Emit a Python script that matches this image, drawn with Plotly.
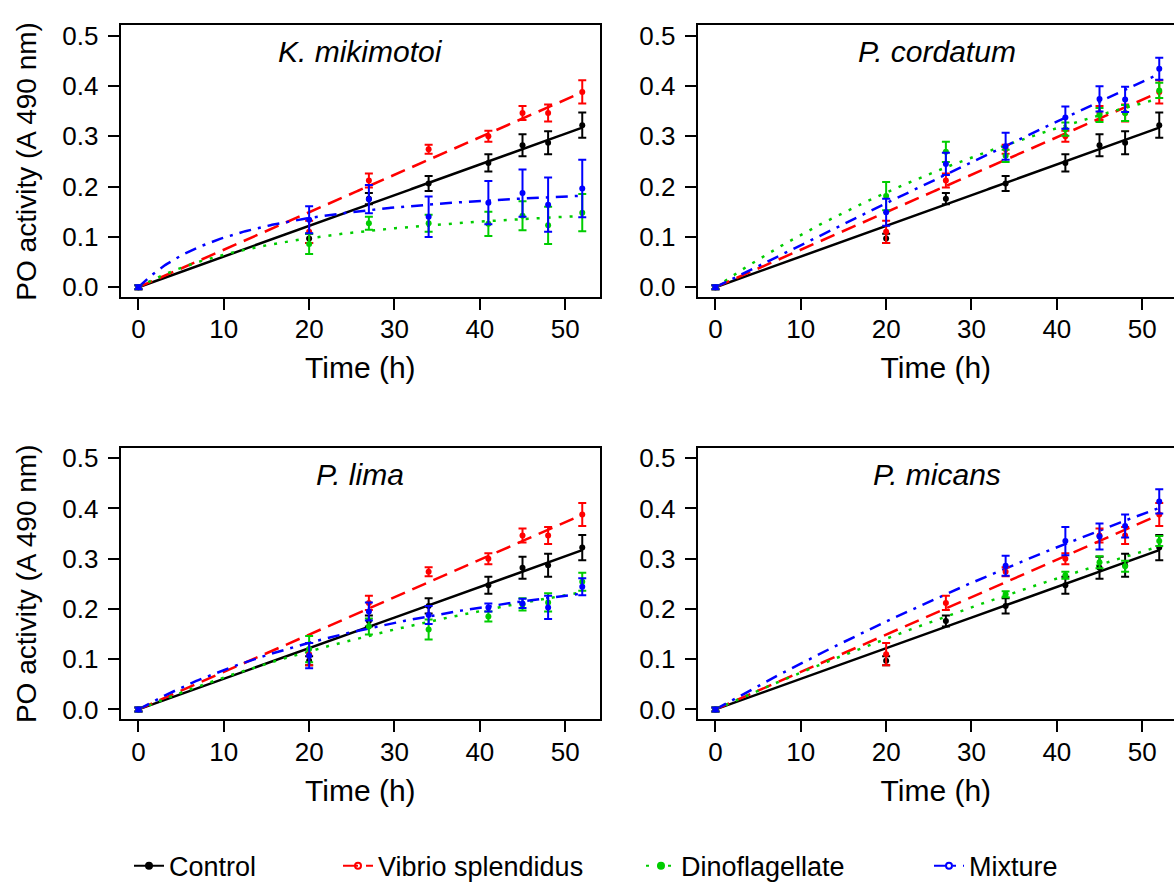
import numpy as np
import plotly.graph_objects as go

# ---------------- data ----------------
times = [0, 20, 27, 34, 41, 45, 48, 52]

control = [0, 0.097, 0.176, 0.206, 0.247, 0.282, 0.287, 0.322]
control_err = [0.004, 0.009, 0.011, 0.015, 0.017, 0.022, 0.023, 0.025]

vibrio = [0, 0.110, 0.212, 0.274, 0.300, 0.346, 0.346, 0.388]
vibrio_err = [0.004, 0.022, 0.014, 0.009, 0.011, 0.014, 0.017, 0.023]

panel_names = ["K. mikimotoi", "P. cordatum", "P. lima", "P. micans"]

dino_kmik = [0, 0.086, 0.127, 0.127, 0.126, 0.142, 0.123, 0.148]
dino_kmik_err = [0.004, 0.020, 0.013, 0.017, 0.024, 0.029, 0.037, 0.037]
mix_kmik = [0, 0.134, 0.175, 0.140, 0.168, 0.187, 0.164, 0.196]
mix_kmik_err = [0.004, 0.027, 0.028, 0.040, 0.043, 0.047, 0.054, 0.057]

dino_pcor = [0, 0.181, 0.269, 0.261, 0.314, 0.342, 0.346, 0.391]
dino_pcor_err = [0.004, 0.028, 0.020, 0.012, 0.013, 0.014, 0.016, 0.015]
mix_pcor = [0, 0.149, 0.245, 0.280, 0.337, 0.374, 0.373, 0.434]
mix_pcor_err = [0.004, 0.027, 0.022, 0.027, 0.022, 0.025, 0.025, 0.022]

dino_plim = [0, 0.120, 0.165, 0.159, 0.185, 0.209, 0.213, 0.254]
dino_plim_err = [0.004, 0.026, 0.016, 0.020, 0.010, 0.012, 0.018, 0.018]
mix_plim = [0, 0.107, 0.195, 0.188, 0.203, 0.211, 0.203, 0.244]
mix_plim_err = [0.004, 0.025, 0.018, 0.018, 0.008, 0.009, 0.023, 0.017]

dino_pmic = [0, None, None, 0.229, 0.267, 0.293, 0.285, 0.335]
dino_pmic_err = [0.004, None, None, 0.006, 0.007, 0.012, 0.011, 0.010]
mix_pmic = [0, None, None, 0.286, 0.335, 0.344, 0.365, 0.414]
mix_pmic_err = [0.004, None, None, 0.020, 0.028, 0.026, 0.023, 0.024]

x_ticks = [0, 10, 20, 30, 40, 50]
y_ticks = [0.0, 0.1, 0.2, 0.3, 0.4, 0.5]
y_tick_labels = ["0.0", "0.1", "0.2", "0.3", "0.4", "0.5"]
series_names = ["Control", "Vibrio splendidus", "Dinoflagellate", "Mixture"]

# ---------------- styles ----------------
FONT = "Liberation Sans, Arial, Helvetica, sans-serif"
colors = ["#000000", "#FF0000", "#00CD00", "#0000FF"]
dashes = ["solid", "15px,8px", "3px,8px", "12px,7px,3px,7px"]
legend_symbols = ["circle", "circle-open", "circle", "circle-open"]


def mm_fit(t, y):
    """Least-squares fit of y = V*t/(K+t) (saturating curve through the origin)."""
    pairs = [(a, b) for a, b in zip(t, y) if b is not None]
    tt = np.array([p[0] for p in pairs], float)
    yy = np.array([p[1] for p in pairs], float)
    best = None
    for K in np.logspace(-1, 6, 4000):
        f = tt / (K + tt)
        V = float(f @ yy) / float(f @ f)
        sse = float(((yy - V * f) ** 2).sum())
        if best is None or sse < best[0]:
            best = (sse, V, K)
    return best[1], best[2]


panels = [
    (dino_kmik, dino_kmik_err, mix_kmik, mix_kmik_err),
    (dino_pcor, dino_pcor_err, mix_pcor, mix_pcor_err),
    (dino_plim, dino_plim_err, mix_plim, mix_plim_err),
    (dino_pmic, dino_pmic_err, mix_pmic, mix_pmic_err),
]

W, H = 1174, 891
# plot-area pixel boxes: (left, right, top, bottom)
boxes = [(120.7, 600.0, 20.8, 297.3), (697.7, 1174.0, 20.8, 297.3),
         (120.7, 600.0, 450.7, 726.7), (697.7, 1174.0, 450.7, 726.7)]
xmin, px_per_h = -2.08, (600.0 - 120.7) / 56.16

fig = go.Figure()
t_fine = np.linspace(0, 52, 300)

for i, (dino, dino_err, mix, mix_err) in enumerate(panels):
    ax = "" if i == 0 else str(i + 1)
    xref, yref = "x" + ax, "y" + ax
    series = [(control, control_err), (vibrio, vibrio_err), (dino, dino_err), (mix, mix_err)]
    for k, (vals, errs) in enumerate(series):
        V, K = mm_fit(times, vals)
        fig.add_trace(go.Scatter(
            x=t_fine, y=V * t_fine / (K + t_fine), mode="lines",
            line=dict(color=colors[k], width=2.5, dash=dashes[k]),
            xaxis=xref, yaxis=yref, showlegend=False, hoverinfo="skip"))
    for k, (vals, errs) in enumerate(series):
        fig.add_trace(go.Scatter(
            x=times, y=vals, mode="markers",
            marker=dict(color=colors[k], size=6),
            error_y=dict(type="data", array=errs, visible=True,
                         color=colors[k], thickness=2, width=4),
            xaxis=xref, yaxis=yref, showlegend=False))

# legend entries (one legend per entry, to place them like the reference)
legend_keys = ["legend", "legend2", "legend3", "legend4"]
for k in range(4):
    fig.add_trace(go.Scatter(
        x=[None], y=[None], mode="lines+markers", name=series_names[k],
        line=dict(color=colors[k], width=2, dash=dashes[k]),
        marker=dict(color=colors[k], size=6, symbol=legend_symbols[k],
                    line=dict(color=colors[k], width=2)),
        legend=legend_keys[k], showlegend=True, xaxis="x", yaxis="y"))

layout = dict(
    width=W, height=H, margin=dict(l=0, r=0, t=0, b=0),
    paper_bgcolor="white", plot_bgcolor="white",
    font=dict(family=FONT, color="black", size=26),
    annotations=[],
)

for i, (l, r, t, b) in enumerate(boxes):
    ax = "" if i == 0 else str(i + 1)
    xmax = xmin + (r - l) / px_per_h
    layout["xaxis" + ax] = dict(
        domain=[l / W, r / W], range=[xmin, xmax], anchor="y" + ax,
        tickvals=x_ticks, ticks="outside", ticklen=11, tickwidth=2, tickcolor="black",
        ticklabelstandoff=-3,
        showline=True, linewidth=2, linecolor="black", mirror=True,
        showgrid=False, zeroline=False, tickfont=dict(size=26),
        title=dict(text="Time (h)", font=dict(size=30), standoff=14),
    )
    layout["yaxis" + ax] = dict(
        domain=[1 - b / H, 1 - t / H], range=[-0.02, 0.52], anchor="x" + ax,
        tickvals=y_ticks, ticktext=y_tick_labels, ticks="outside", ticklen=11,
        tickwidth=2, tickcolor="black", ticklabelstandoff=4,
        showline=True, linewidth=2, linecolor="black", mirror=(i % 2 == 0),
        showgrid=False, zeroline=False, tickfont=dict(size=26),
        title=dict(text="PO activity (A 490 nm)" if i % 2 == 0 else "",
                   font=dict(size=28), standoff=18),
    )
    layout["annotations"].append(dict(
        x=26, y=0.468, xref="x" + ax, yref="y" + ax, text="<i>%s</i>" % panel_names[i],
        showarrow=False, xanchor="center", yanchor="middle", font=dict(size=30)))

legend_x = [129, 338, 641, 929]
for k in range(4):
    layout[legend_keys[k]] = dict(
        x=legend_x[k] / W, y=1 - 876 / H, xanchor="left", yanchor="middle",
        orientation="h", font=dict(size=27, color="black"),
        bgcolor="rgba(0,0,0,0)", borderwidth=0)

fig.update_layout(**layout)
fig.write_html(
    "out.html",
    config={"displayModeBar": False},
    post_script="document.body.style.margin='0px';document.body.style.overflow='hidden';",
)
